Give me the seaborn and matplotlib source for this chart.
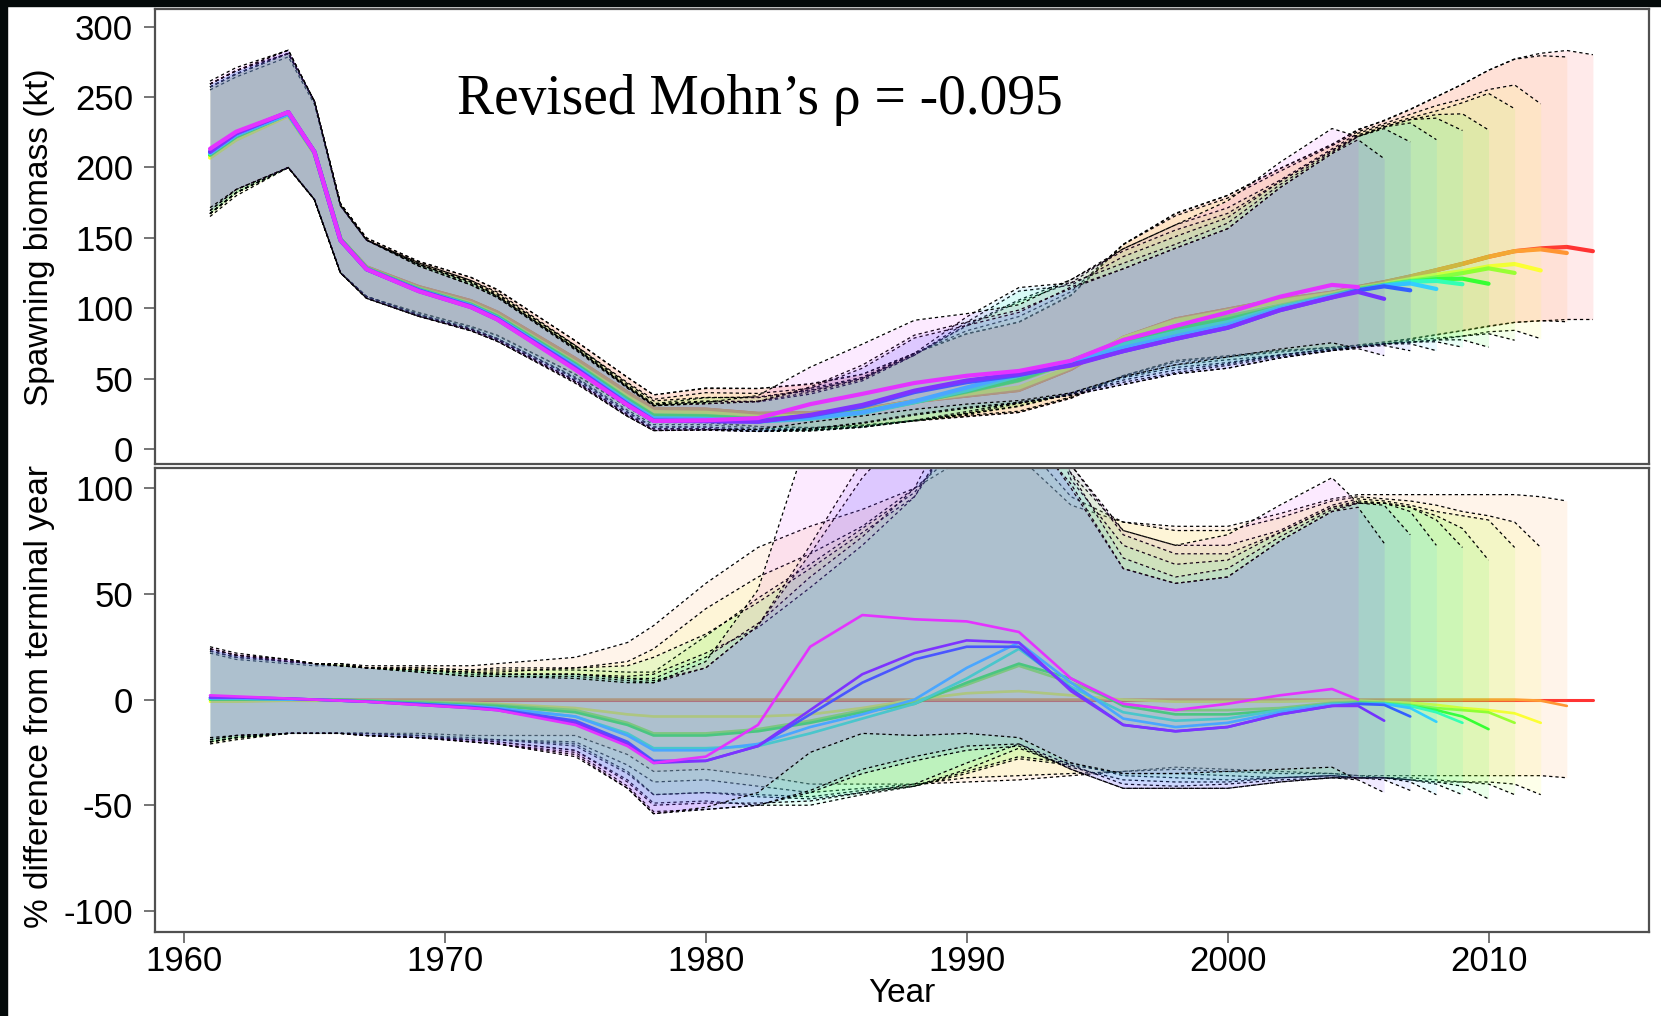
import matplotlib
matplotlib.use("Agg")
import numpy as np
import matplotlib.pyplot as plt
import seaborn as sns
from matplotlib.patches import Rectangle

# ---------------- data ----------------
YEARS = [1961, 1962, 1964, 1965, 1966, 1967, 1969, 1971, 1972, 1975, 1977, 1978,
         1980, 1982, 1984, 1986, 1988, 1990, 1992, 1994, 1996, 1998, 2000, 2002,
         2004, 2005, 2006, 2007, 2008, 2009, 2010, 2011, 2012, 2013, 2014]

RUN_TERMINAL = [2014, 2013, 2012, 2011, 2010, 2009, 2008, 2007, 2006, 2005]
RUN_COLORS = ["#FF3333", "#FF9533", "#FCFF33", "#99FF33", "#36FF33",
              "#33FFB4", "#33CFFF", "#335FFF", "#7333FF", "#E433FF"]

# terminal-year (2014) run, spawning biomass (kt) and its interval
SSB_2014 = [209, 222, 238, 211, 149, 129, 115, 105, 97, 64, 40, 28.5, 28, 25, 25.5, 28,
            34, 38, 42, 57, 79, 92, 99, 106, 111, 115, 118.5, 122.5, 127, 131.5, 136.5,
            140.5, 142.5, 143.5, 140.5]
SSB_2014_HI = [257, 266, 281, 247, 174, 150, 133, 122, 113, 77, 51, 38.5, 43, 43, 46, 53,
               68, 82, 90, 109, 145, 167, 180, 199, 216, 227, 233, 241, 250, 259, 269,
               277, 281, 283, 280]
SSB_2014_LO = [167, 182, 200, 177, 125, 108, 97, 87, 81, 53, 30, 19, 19, 16, 15, 17, 20,
               23, 26, 36, 52, 63, 66, 70, 72, 74, 76, 78, 81, 84, 87, 90, 91, 92, 92]

# retrospective peels: % difference from the terminal-year run (estimate, low, high)
PCT_2014 = [0] * 35

PCT_2013 = [0, 0, 0, 0, 0, 0, 0, 0, 0, 0, 0, 0, 0, 0, 0, 0, 0, 0, 0, 0, 0, 0, 0, 0,
            0, 0, 0, 0, 0, 0, 0, 0, -0.5, -3]
PCT_2013_HI = [23, 20, 18, 17, 17, 16, 16, 16, 17, 20, 27, 35, 55, 72, 82, 90, 100, 115,
               115, 92, 84, 82, 82, 88, 95, 97, 97, 97, 97, 97, 97, 97, 96, 94]
PCT_2013_LO = [-20, -18, -16, -16, -16, -16, -16, -17, -17, -17, -26, -34, -33, -36, -40,
               -40, -40, -39, -38, -36, -34, -32, -33, -34, -35, -36, -36, -36, -36, -36,
               -36, -36, -36, -37]

PCT_2012 = [-1, -1, -0.5, -0.5, -0.5, -0.5, -1, -1.5, -2, -4, -7, -8, -8, -8, -7, -4, 0,
            3, 4, 2, 0, -1, -1, -1, -0.5, -0.5, -1, -1.5, -2.5, -4, -5, -6.5, -11]
PCT_2012_HI = [22, 19, 17, 16, 16, 15, 15, 14, 15, 15, 18, 24, 43, 58, 69, 82, 100, 121,
               124, 96, 84, 80, 80, 86, 94, 96, 95, 94, 92, 89, 87, 84, 72]
PCT_2012_LO = [-21, -19, -16, -16, -16, -16, -17, -18, -19, -20, -31, -39, -38, -41, -44,
               -42, -40, -37, -36, -35, -34, -33, -34, -35, -35, -36, -37, -37, -38, -39,
               -39, -40, -45]

PCT_2011 = [0, 0, 0, 0, 0, -0.5, -1, -2, -2.5, -5, -11, -16, -16, -14, -10, -5, -1, 7,
            16, 8, -2, -5, -5, -4, -1.5, -1, -1.5, -2.5, -4, -5, -6, -11]
PCT_2011_HI = [23, 20, 18, 17, 17, 15, 15, 14, 14, 14, 13, 13, 30, 48, 64, 81, 98, 130,
               149, 107, 80, 73, 73, 80, 92, 95, 94, 92, 89, 87, 85, 72]
PCT_2011_LO = [-20, -18, -16, -16, -16, -16, -17, -19, -19, -21, -34, -45, -44, -45, -46,
               -43, -41, -35, -28, -31, -35, -35, -36, -37, -36, -37, -37, -38, -39, -39,
               -40, -45]

PCT_2010 = [0, 0, 0, 0, 0, -0.5, -1.5, -2.5, -3, -6, -12, -17, -17, -15, -11, -6, -2, 8,
            17, 10, -3, -7, -7, -5, -2, -1.5, -2, -3, -5, -8, -14]
PCT_2010_HI = [23, 20, 18, 17, 17, 15, 14, 13, 13, 15, 16, 20, 31, 46, 62, 79, 96, 132,
               152, 111, 78, 69, 69, 79, 91, 94, 93, 91, 87, 81, 66]
PCT_2010_LO = [-20, -18, -16, -16, -16, -16, -17, -19, -19, -22, -35, -45, -44, -46, -47,
               -44, -41, -34, -27, -30, -36, -37, -38, -37, -36, -37, -37, -38, -39, -41,
               -47]

PCT_2009 = [0.5, 0.5, 0, 0, -0.5, -1, -2, -3, -4, -8, -16, -23, -23, -22, -16, -9, -2,
            10, 24, 6, -6, -10, -9, -5, -2, -2, -2, -3, -6, -11]
PCT_2009_HI = [24, 21, 18, 17, 16, 15, 14, 13, 12, 12, 11, 12, 22, 34, 53, 73, 96, 137,
               167, 104, 73, 64, 66, 79, 91, 93, 93, 91, 85, 72]
PCT_2009_LO = [-20, -18, -16, -16, -16, -17, -18, -19, -20, -24, -38, -49, -48, -50, -50,
               -45, -41, -33, -23, -32, -38, -39, -39, -37, -36, -37, -37, -38, -40, -45]

PCT_2008 = [0.5, 0.5, 0, 0, -0.5, -1, -2, -3, -4, -8, -17, -24, -24, -21, -13, -7, 0, 15,
            27, 8, -9, -13, -11, -6, -2.5, -2, -2, -4, -10.5]
PCT_2008_HI = [24, 21, 18, 17, 16, 15, 14, 13, 12, 12, 10, 10, 20, 36, 58, 77, 100, 147,
               173, 107, 67, 58, 62, 77, 90, 93, 93, 89, 73]
PCT_2008_LO = [-20, -18, -16, -16, -16, -17, -18, -19, -20, -24, -39, -50, -49, -49, -48,
               -44, -40, -30, -21, -31, -40, -41, -40, -38, -37, -37, -37, -39, -45]

PCT_2007 = [1, 1, 0.5, 0, -0.5, -1, -2, -3.5, -4.5, -10, -20, -29, -29, -22, -7, 8, 19,
            25, 25, 5, -12, -15, -13, -7, -3, -2, -2.5, -8]
PCT_2007_HI = [24, 21, 19, 17, 16, 15, 14, 12, 12, 12, 10, 9, 15, 35, 69, 105, 132, 131,
               131, 102, 62, 55, 58, 75, 89, 93, 92, 78]
PCT_2007_LO = [-19, -17, -16, -16, -16, -17, -18, -20, -21, -25, -41, -53, -52, -50, -44,
               -35, -29, -24, -22, -33, -42, -42, -42, -39, -37, -37, -38, -43]

PCT_2006 = [1, 1, 0.5, 0, -0.5, -1, -2.5, -4, -5, -11, -21, -30, -29, -22, -5, 12, 22,
            28, 27, 4, -12, -15, -13, -7, -3, -3, -10]
PCT_2006_HI = [24, 21, 19, 17, 16, 15, 13, 11, 11, 11, 9, 8, 15, 35, 73, 113, 138, 137,
               135, 100, 62, 55, 58, 75, 89, 91, 74]
PCT_2006_LO = [-19, -17, -16, -16, -16, -17, -18, -20, -21, -26, -42, -54, -52, -50, -43,
               -33, -27, -22, -21, -33, -42, -42, -42, -39, -37, -38, -44]

PCT_2005 = [2, 1.5, 0.5, 0, -0.5, -1, -2.5, -4, -5, -12, -22, -30, -27, -12, 25, 40, 38,
            37, 32, 10, -2, -5, -2, 2, 5, 0]
PCT_2005_HI = [25, 22, 19, 17, 16, 15, 13, 11, 11, 10, 8, 8, 18, 52, 128, 166, 169, 153,
               144, 111, 80, 73, 78, 92, 105, 93]
PCT_2005_LO = [-18, -17, -16, -16, -16, -17, -18, -20, -21, -27, -42, -54, -51, -44, -25,
               -16, -17, -16, -18, -30, -35, -35, -34, -33, -32, -38]

PEELS = {
    2013: (PCT_2013, PCT_2013_LO, PCT_2013_HI),
    2012: (PCT_2012, PCT_2012_LO, PCT_2012_HI),
    2011: (PCT_2011, PCT_2011_LO, PCT_2011_HI),
    2010: (PCT_2010, PCT_2010_LO, PCT_2010_HI),
    2009: (PCT_2009, PCT_2009_LO, PCT_2009_HI),
    2008: (PCT_2008, PCT_2008_LO, PCT_2008_HI),
    2007: (PCT_2007, PCT_2007_LO, PCT_2007_HI),
    2006: (PCT_2006, PCT_2006_LO, PCT_2006_HI),
    2005: (PCT_2005, PCT_2005_LO, PCT_2005_HI),
}

TITLE = "Revised Mohn\u2019s \u03c1 = -0.095"
YLAB_TOP = "Spawning biomass (kt)"
YLAB_BOT = "% difference from terminal year"
XLAB = "Year"

# ---------------- plotting ----------------
sns.set_theme(style="ticks")
plt.rcParams["font.family"] = ["Liberation Sans", "DejaVu Sans"]
plt.rcParams["axes.unicode_minus"] = False

W, H = 1661, 1016
fig = plt.figure(figsize=(W / 100, H / 100), dpi=100, facecolor="white")
ax1 = fig.add_axes([154.7 / W, 1 - 464 / H, (1649 - 154.7) / W, (464 - 8.5) / H])
ax2 = fig.add_axes([154.7 / W, 1 - 932 / H, (1649 - 154.7) / W, (932 - 468) / H])

yrs = np.array(YEARS, dtype=float)
ref = np.array(SSB_2014, dtype=float)
DASH = (2.6, 2.4)


def draw_run(ax, x, mid, lo, hi, color, lw, k, band=True):
    base = 1 + 4 * k
    if band:
        ax.fill_between(x, lo, hi, color=color, alpha=0.1, linewidth=0, zorder=base)
    sns.lineplot(x=x, y=mid, ax=ax, color=color, linewidth=lw, zorder=base + 1,
                 estimator=None, sort=False, legend=False, solid_capstyle="round")
    if band:
        for b in (lo, hi):
            ax.plot(x, b, color="black", linewidth=0.9, dashes=DASH, zorder=base + 2)


for k, (T, col) in enumerate(zip(RUN_TERMINAL, RUN_COLORS)):
    n = YEARS.index(T) + 1
    x = yrs[:n]
    if T == 2014:
        mid_t = ref
        lo_t = np.array(SSB_2014_LO, float)
        hi_t = np.array(SSB_2014_HI, float)
        draw_run(ax1, x, mid_t, lo_t, hi_t, col, 3.0, k)
        draw_run(ax2, x, np.array(PCT_2014, float), None, None, col, 2.2, k, band=False)
    else:
        p, plo, phi = (np.array(a, float) for a in PEELS[T])
        r = ref[:n]
        draw_run(ax1, x, r * (1 + p / 100), r * (1 + plo / 100), r * (1 + phi / 100),
                 col, 3.0, k)
        draw_run(ax2, x, p, plo, phi, col, 1.9, k)

GRID_COL = "#505050"
for ax in (ax1, ax2):
    ax.set_facecolor("white")
    ax.set_xlim(1958.88, 2016.15)
    ax.set_xlabel("")
    ax.set_ylabel("")
    for sp in ax.spines.values():
        sp.set_visible(True)
        sp.set_color(GRID_COL)
        sp.set_linewidth(1.6)
        sp.set_zorder(200)
    ax.tick_params(axis="both", direction="out", length=7.6, width=1.1, color=GRID_COL,
                   labelsize=25, labelcolor="black")
    ax.tick_params(axis="y", pad=8)
    ax.tick_params(axis="x", pad=2)

ax1.set_ylim(-10.6, 312.8)
ax1.set_yticks([0, 50, 100, 150, 200, 250, 300])
ax1.set_xticks([])

ax2.set_ylim(-110, 109.6)
ax2.set_yticks([-100, -50, 0, 50, 100])
ax2.set_xticks([1960, 1970, 1980, 1990, 2000, 2010])

fig.text(457 / W, 1 - 100 / H, TITLE, ha="left", va="center", fontsize=40,
         family=["Liberation Serif", "DejaVu Serif"], color="black")
fig.text(40 / W, 1 - 237 / H, YLAB_TOP, rotation=90, ha="center", va="center",
         fontsize=24, color="black")
fig.text(40 / W, 1 - 696 / H, YLAB_BOT, rotation=90, ha="center", va="center",
         fontsize=24, color="black")
fig.text(902 / W, 1 - 994 / H, XLAB, ha="center", va="center", fontsize=24,
         color="black")

# dark frame strips along the top and left edge of the screenshot
fig.patches.append(Rectangle((0, 1 - 6 / H), 1, 6 / H, transform=fig.transFigure,
                             color="#040a0a", zorder=300))
fig.patches.append(Rectangle((0, 0), 7 / W, 1, transform=fig.transFigure,
                             color="#040a0a", zorder=300))

fig.savefig("out.png", dpi=100, facecolor="white")
